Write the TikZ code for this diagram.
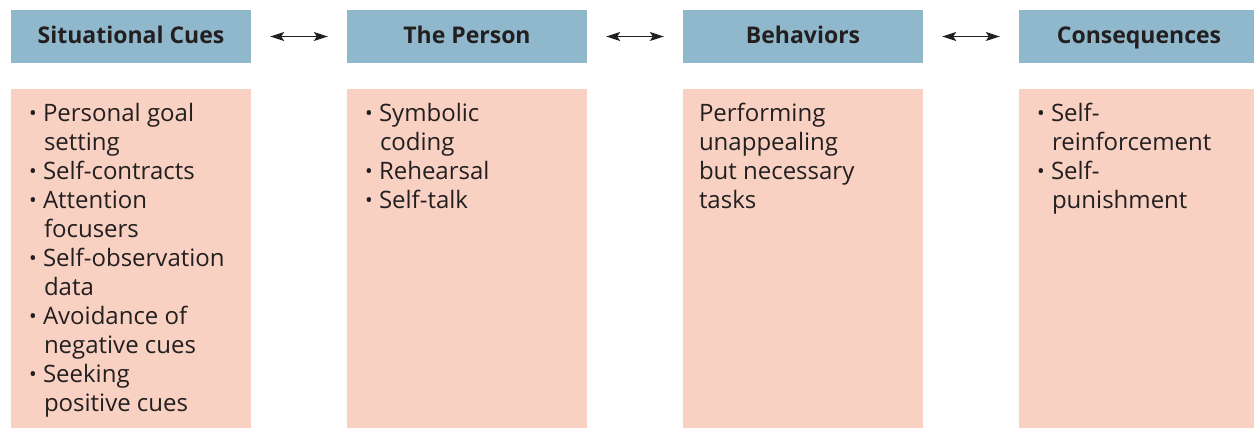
\documentclass[tikz,border=0pt]{standalone}
\usepackage{fontspec}
\setmainfont{Open Sans}
\usetikzlibrary{positioning,arrows.meta}
\definecolor{headblue}{HTML}{90B8CD}
\definecolor{bodypink}{HTML}{F8D1C3}
\definecolor{inkgray}{HTML}{231F20}
\newcommand\bul{\makebox[14pt][l]{\raisebox{1pt}{\scalebox{0.85}{\textbullet}}}}
\newcommand\cont{\hspace*{15pt}}

\tikzset{
	head/.style={fill=headblue, minimum width=240pt, minimum height=53pt, inner sep=0pt, text=inkgray, text height=19pt, text depth=5pt, font=\bfseries\fontsize{23}{27}\selectfont},
	body/.style={fill=bodypink, minimum width=240pt, minimum height=339pt, inner sep=0pt},
	items/.style={align=left, anchor=north west, inner sep=0pt, text=inkgray, font=\fontsize{24}{29}\selectfont},
	link/.style={{Stealth[length=14pt,width=9pt,inset=3pt]}-{Stealth[length=14pt,width=9pt,inset=3pt]}, line width=1.3pt, draw=inkgray}
}

\begin{document}
\begin{tikzpicture}[x=1pt,y=1pt]
		%%%%% START %%%%%
		\useasboundingbox (0,0) rectangle (1254,-428);
		
		% headers
		\node[head] (cue) at (131,-36.5) {Situational Cues};
		\node[head] (person) at (467,-36.5) {The Person};
		\node[head] (behav) at (803,-36.5) {Behaviors};
		\node[head] (conseq) at (1139,-36.5) {Consequences};
		
		\draw[link] ([xshift=19pt]cue.east) -- ([xshift=-19pt]person.west);
		\draw[link] ([xshift=19pt]person.east) -- ([xshift=-19pt]behav.west);
		\draw[link] ([xshift=19pt]behav.east) -- ([xshift=-19pt]conseq.west);
		
		% boxes
		\node[body] (cuebox) at (131,-258.5) {};
		\node[body] (personbox) at (467,-258.5) {};
		\node[body] (behavbox) at (803,-258.5) {};
		\node[body] (conseqbox) at (1139,-258.5) {};
		
		\node[items] (cuetext) at ([xshift=18pt,yshift=-14pt]cuebox.north west)
			{\bul Personal goal\\ \cont setting\\ \bul Self-contracts\\ \bul Attention\\ \cont focusers\\
			 \bul Self-observation\\ \cont data\\ \bul Avoidance of\\ \cont negative cues\\ \bul Seeking\\ \cont positive cues};
		\node[items] (persontext) at ([xshift=18pt,yshift=-14pt]personbox.north west)
			{\bul Symbolic\\ \cont coding\\ \bul Rehearsal\\ \bul Self-talk};
		\node[items] (behavtext) at ([xshift=16pt,yshift=-14pt]behavbox.north west)
			{Performing\\ unappealing\\ but necessary\\ tasks};
		\node[items] (conseqtext) at ([xshift=18pt,yshift=-14pt]conseqbox.north west)
			{\bul Self-\\ \cont reinforcement\\ \bul Self-\\ \cont punishment};
		
		%%%%% END %%%%%
\end{tikzpicture}
\end{document}
